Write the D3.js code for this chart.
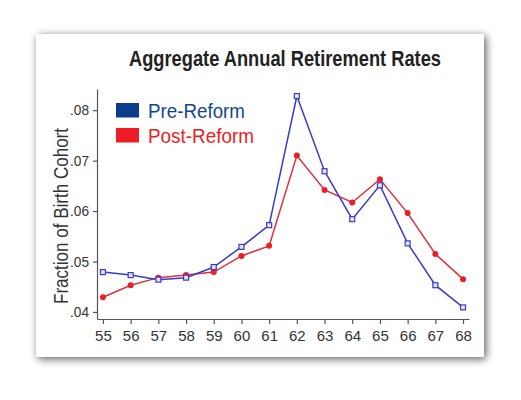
<!DOCTYPE html>
<html>
<head>
<meta charset="utf-8">
<script src="https://cdn.jsdelivr.net/npm/d3@7"></script>
<style>
  body { margin: 0; background: #fff; }
  text { font-family: "Liberation Sans", Arial, sans-serif; }
</style>
</head>
<body>
<script>
// birth cohort ages
var ages = [55, 56, 57, 58, 59, 60, 61, 62, 63, 64, 65, 66, 67, 68];
var preReform = [.0479, .0473, .0464, .0468, .0489, .0529, .0572, .0828, .0679, .0584, .0651, .0536, .0453, .0409];
var postReform = [.0429, .0453, .0468, .0473, .0479, .0511, .0531, .0710, .0642, .0617, .0663, .0596, .0515, .0465];
var yTicks = [.04, .05, .06, .07, .08];
var seriesNames = ["Pre-Reform", "Post-Reform"];

var w = 521, h = 400;

var svg = d3.select("body")
      .append("svg")
      .attr("width", w)
      .attr("height", h);

// drop shadow for the panel
var defs = svg.append("defs");
var f = defs.append("filter")
      .attr("id", "shadow")
      .attr("x", "-10%").attr("y", "-10%")
      .attr("width", "120%").attr("height", "120%");
f.append("feGaussianBlur").attr("in", "SourceAlpha").attr("stdDeviation", 4).attr("result", "b");
f.append("feOffset").attr("in", "b").attr("dx", 2).attr("dy", 2).attr("result", "o");
f.append("feComponentTransfer").attr("in", "o").attr("result", "s")
  .append("feFuncA").attr("type", "linear").attr("slope", 0.65);
var m = f.append("feMerge");
m.append("feMergeNode").attr("in", "s");
m.append("feMergeNode").attr("in", "SourceGraphic");

svg.append("rect")
   .attr("x", 36).attr("y", 34)
   .attr("width", 448).attr("height", 323)
   .attr("fill", "white")
   .attr("filter", "url(#shadow)");

var x = d3.scaleLinear().domain([54.785, 68.215]).range([97, 469]);
var y = d3.scaleLinear().domain([0.0386, 0.0842]).range([319, 89]);

// title (condensed face squeezed with textLength)
svg.append("text")
   .text("Aggregate Annual Retirement Rates")
   .attr("x", 285)
   .attr("y", 65.5)
   .attr("text-anchor", "middle")
   .attr("font-size", "21.5px")
   .attr("font-weight", "bold")
   .attr("textLength", 312)
   .attr("lengthAdjust", "spacingAndGlyphs")
   .attr("fill", "#222");

// axes
var xAxis = d3.axisBottom(x).tickValues(ages).tickSize(5).tickSizeOuter(0)
      .tickFormat(d3.format("d"));
var yAxis = d3.axisLeft(y).tickValues(yTicks).tickSize(4).tickSizeOuter(0)
      .tickFormat(function(d) { return d3.format(".2f")(d).replace(/^0/, ""); });

var gx = svg.append("g").attr("transform", "translate(0,319)").call(xAxis);
var gy = svg.append("g").attr("transform", "translate(97,0)").call(yAxis);

[gx, gy].forEach(function(g) {
  g.selectAll("path, line").attr("stroke", "#555").attr("stroke-width", 1.2);
  g.selectAll("text").attr("font-size", "15px").attr("fill", "#333")
   .attr("font-family", "Liberation Sans, Arial, sans-serif");
});
gx.selectAll("text").attr("dy", "0.95em");
gy.selectAll("text").attr("dx", "-1px")
  .attr("textLength", 19).attr("lengthAdjust", "spacingAndGlyphs");

// y label
svg.append("text")
   .text("Fraction of Birth Cohort")
   .attr("transform", "translate(68,216) rotate(-90)")
   .attr("text-anchor", "middle")
   .attr("font-size", "20px")
   .attr("textLength", 176)
   .attr("lengthAdjust", "spacingAndGlyphs")
   .attr("fill", "#333");

// lines
var line = d3.line()
      .x(function(d, i) { return x(ages[i]); })
      .y(function(d) { return y(d); });

svg.append("path")
   .datum(postReform)
   .attr("d", line)
   .attr("fill", "none")
   .attr("stroke", "#e0303a")
   .attr("stroke-width", 1.5);

svg.append("path")
   .datum(preReform)
   .attr("d", line)
   .attr("fill", "none")
   .attr("stroke", "#3a3ad0")
   .attr("stroke-width", 1.5);

svg.selectAll(".post")
   .data(postReform)
   .enter()
   .append("circle")
   .attr("class", "post")
   .attr("cx", function(d, i) { return x(ages[i]); })
   .attr("cy", function(d) { return y(d); })
   .attr("r", 3)
   .attr("fill", "#e8202a");

svg.selectAll(".pre")
   .data(preReform)
   .enter()
   .append("rect")
   .attr("class", "pre")
   .attr("x", function(d, i) { return x(ages[i]) - 2.5; })
   .attr("y", function(d) { return y(d) - 2.5; })
   .attr("width", 5)
   .attr("height", 5)
   .attr("fill", "#e4e4f6")
   .attr("stroke", "#3a3ad0")
   .attr("stroke-width", 1.2);

// legend
var legColors = ["#0b3d8c", "#ee1c25"];
var legText = ["#13468f", "#ee1c25"];
var legWidth = [97, 106];
seriesNames.forEach(function(name, i) {
  svg.append("rect")
     .attr("x", 116).attr("y", 103 + i * 25)
     .attr("width", 23).attr("height", 14.5)
     .attr("fill", legColors[i]);
  svg.append("text")
     .text(name)
     .attr("x", 148).attr("y", 118 + i * 24.5)
     .attr("font-size", "21px")
     .attr("textLength", legWidth[i])
     .attr("lengthAdjust", "spacingAndGlyphs")
     .attr("fill", legText[i]);
});
</script>
</body>
</html>
